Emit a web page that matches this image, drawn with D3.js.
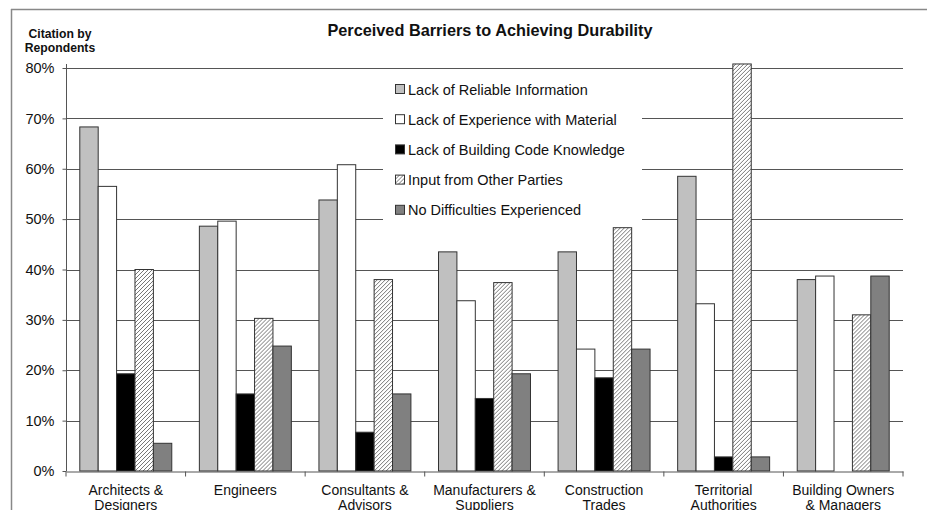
<!DOCTYPE html>
<html>
<head>
<meta charset="utf-8">
<script src="https://cdn.jsdelivr.net/npm/d3@7"></script>
<style>
  body { margin: 0; background: #fff; }
  svg text { font-family: "Liberation Sans", Arial, sans-serif; }
</style>
</head>
<body>
<div id="chart"></div>
<script>
// DATA
const categories = [
  ["Architects &", "Designers"],
  ["Engineers"],
  ["Consultants &", "Advisors"],
  ["Manufacturers &", "Suppliers"],
  ["Construction", "Trades"],
  ["Territorial", "Authorities"],
  ["Building Owners", "& Managers"]
]
const seriesNames = [
  "Lack of Reliable Information",
  "Lack of Experience with Material",
  "Lack of Building Code Knowledge",
  "Input from Other Parties",
  "No Difficulties Experienced"
]
const reliableInfo   = [68.3, 48.6, 53.8, 43.5, 43.5, 58.5, 38.0]
const experience     = [56.5, 49.6, 60.8, 33.8, 24.2, 33.2, 38.7]
const codeKnowledge  = [19.3, 15.3, 7.7, 14.4, 18.5, 2.8, 0]
const otherParties   = [40.0, 30.3, 38.0, 37.4, 48.3, 80.8, 31.0]
const noDifficulties = [5.5, 24.8, 15.3, 19.3, 24.2, 2.8, 38.7]
const yTicks = [0, 10, 20, 30, 40, 50, 60, 70, 80]

const series = [reliableInfo, experience, codeKnowledge, otherParties, noDifficulties]
const fills = ["#c0c0c0", "#ffffff", "#000000", "url(#hatch)", "#808080"]

const width = 927, height = 510
const plotLeft = 66, plotRight = 903, plotTop = 68, plotBottom = 471

const svg = d3.select("#chart").append("svg")
  .attr("width", width)
  .attr("height", height)

// hatch pattern for "Input from Other Parties"
const defs = svg.append("defs")
const pat = defs.append("pattern")
  .attr("id", "hatch")
  .attr("patternUnits", "userSpaceOnUse")
  .attr("width", 4).attr("height", 4)
pat.append("rect").attr("width", 4).attr("height", 4).attr("fill", "#fff")
pat.append("path")
  .attr("d", "M-1,1 l2,-2 M0,4 l4,-4 M3,5 l2,-2")
  .attr("stroke", "#777").attr("stroke-width", 1)

// frame
svg.append("line").attr("x1", 11).attr("x2", width).attr("y1", 9.5).attr("y2", 9.5)
  .attr("stroke", "#888").attr("stroke-width", 1.5)
svg.append("line").attr("x1", 11.5).attr("x2", 11.5).attr("y1", 9).attr("y2", height)
  .attr("stroke", "#888").attr("stroke-width", 1.5)

// SCALES
const x0 = d3.scaleBand()
  .domain(d3.range(categories.length))
  .range([plotLeft, plotRight])
  .paddingInner(0)
  .paddingOuter(0)

const x1 = d3.scaleBand()
  .domain(d3.range(series.length))
  .range([0, x0.bandwidth()])
  .paddingOuter(0.75)
  .paddingInner(0)

const y = d3.scaleLinear()
  .domain([0, 80])
  .range([plotBottom, plotTop])

// gridlines
svg.append("g")
  .selectAll("line")
  .data(yTicks.filter(d => d > 0))
  .join("line")
  .attr("x1", plotLeft).attr("x2", plotRight)
  .attr("y1", d => Math.round(y(d)) + 0.5)
  .attr("y2", d => Math.round(y(d)) + 0.5)
  .attr("stroke", "#555").attr("stroke-width", 1)

// legend background (covers the gridlines)
const lg = svg.append("g")
lg.append("rect")
  .attr("x", 383).attr("y", 72).attr("width", 259).attr("height", 154)
  .attr("fill", "#fff")

// BARS
const groups = svg.append("g")
  .selectAll("g")
  .data(categories)
  .join("g")
  .attr("transform", (d, i) => `translate(${x0(i)},0)`)

groups.selectAll("rect")
  .data((d, i) => series.map((s, j) => ({ j: j, v: s[i] })).filter(e => e.v > 0))
  .join("rect")
  .attr("x", d => x1(d.j))
  .attr("width", x1.bandwidth())
  .attr("y", d => y(d.v))
  .attr("height", d => y(0) - y(d.v))
  .attr("fill", d => fills[d.j])
  .attr("stroke", "#333")
  .attr("stroke-width", 1)

// AXES
const yAxis = d3.axisLeft(y)
  .tickValues(yTicks)
  .tickFormat(d => d + "%")
  .tickSize(4)
  .tickPadding(8)
const gy = svg.append("g")
  .attr("transform", `translate(${plotLeft + 0.5},0)`)
  .call(yAxis)
gy.select(".domain").attr("stroke", "#555").attr("d", `M0,${plotTop - 4}V${plotBottom}`)
gy.selectAll(".tick line").attr("stroke", "#555")
gy.selectAll("text").attr("font-size", 14.5).attr("fill", "#111")

const xAxis = d3.axisBottom(x0)
  .tickValues([])
  .tickSizeOuter(0)
const gx = svg.append("g")
  .attr("transform", `translate(0,${plotBottom + 0.5})`)
  .call(xAxis)
gx.select(".domain").attr("stroke", "#555")
gx.selectAll(".cat-tick")
  .data(d3.range(categories.length + 1))
  .join("line")
  .attr("class", "cat-tick")
  .attr("x1", d => d < categories.length ? x0(d) : plotRight)
  .attr("x2", d => d < categories.length ? x0(d) : plotRight)
  .attr("y1", 0).attr("y2", 5)
  .attr("stroke", "#555")

// category labels
svg.append("g")
  .selectAll("text")
  .data(categories)
  .join("text")
  .attr("x", (d, i) => x0(i) + x0.bandwidth() / 2)
  .attr("y", 495)
  .attr("text-anchor", "middle")
  .attr("font-size", 14)
  .attr("fill", "#111")
  .selectAll("tspan")
  .data(d => d)
  .join("tspan")
  .attr("x", function () { return this.parentNode.getAttribute("x") })
  .attr("dy", (d, i) => i === 0 ? 0 : 14.5)
  .text(d => d)

// LEGEND
const items = lg.selectAll("g.item")
  .data(seriesNames)
  .join("g")
  .attr("class", "item")
  .attr("transform", (d, i) => `translate(395,${89 + i * 30.2})`)
items.append("rect")
  .attr("x", 0.5).attr("y", -4.5).attr("width", 9).attr("height", 9)
  .attr("fill", (d, i) => fills[i])
  .attr("stroke", "#333")
items.append("text")
  .attr("x", 13).attr("y", 5.5)
  .attr("font-size", 14.5)
  .attr("fill", "#111")
  .text(d => d)

// TITLES
svg.append("text")
  .attr("x", 490).attr("y", 36)
  .attr("text-anchor", "middle")
  .attr("font-size", 16.3)
  .attr("font-weight", "bold")
  .attr("fill", "#111")
  .text("Perceived Barriers to Achieving Durability")

svg.append("text")
  .attr("x", 60).attr("y", 37.5)
  .attr("text-anchor", "middle")
  .attr("font-size", 12.2)
  .attr("font-weight", "bold")
  .attr("fill", "#111")
  .selectAll("tspan")
  .data(["Citation by", "Repondents"])
  .join("tspan")
  .attr("x", 60)
  .attr("dy", (d, i) => i === 0 ? 0 : 14)
  .text(d => d)
</script>
</body>
</html>
